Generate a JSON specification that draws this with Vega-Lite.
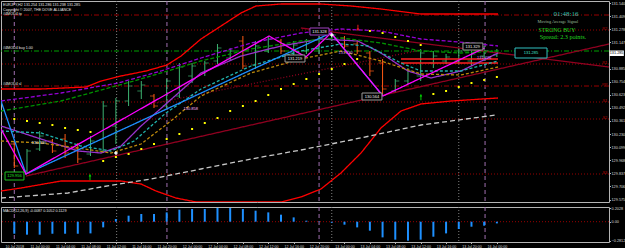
{
"$schema":"https://vega.github.io/schema/vega-lite/v6.json",
"background":"#000000",
"padding":0,
"spacing":2,
"config":{"view":{"stroke":"#b4b4b4","strokeWidth":1},"axis":{"grid":false,"domain":false,"labelFont":"Liberation Sans","labelColor":"#d8d8d8","tickColor":"#b4b4b4","tickSize":1.5,"labelPadding":0.5,"labelOverlap":false,"labelFlush":false},"text":{"font":"Liberation Sans"}},
"datasets":{
"verticals":[{"i":0,"k":"day"},{"i":12.02,"k":"day"},{"i":24.0,"k":"day"},{"i":37.07,"k":"day"},{"i":8.06,"k":"cursor"},{"i":25.0,"k":"cursor"},{"i":35.0,"k":"cursor"}],
"candles":[
{"i":0,"t":"10 Jul 20:00","d":"down","o":130.13,"h":130.16,"l":129.89,"c":129.91},
{"i":1,"t":"10 Jul 22:00","d":"up","o":129.86,"h":130.08,"l":129.83,"c":130.06},
{"i":2,"t":"11 Jul 00:00","d":"up","o":130.08,"h":130.26,"l":130.06,"c":130.21},
{"i":3,"t":"11 Jul 02:00","d":"down","o":130.16,"h":130.18,"l":130.04,"c":130.06},
{"i":4,"t":"11 Jul 04:00","d":"down","o":130.18,"h":130.23,"l":129.99,"c":130.04},
{"i":5,"t":"11 Jul 06:00","d":"down","o":130.08,"h":130.14,"l":129.94,"c":129.98},
{"i":6,"t":"11 Jul 08:00","d":"up","o":130.03,"h":130.21,"l":130.01,"c":130.16},
{"i":7,"t":"11 Jul 10:00","d":"up","o":130.06,"h":130.56,"l":130.04,"c":130.51},
{"i":8,"t":"11 Jul 12:00","d":"up","o":130.31,"h":130.59,"l":130.13,"c":130.56},
{"i":9,"t":"11 Jul 14:00","d":"up","o":130.56,"h":130.76,"l":130.51,"c":130.71},
{"i":10,"t":"11 Jul 16:00","d":"up","o":130.66,"h":130.76,"l":130.58,"c":130.72},
{"i":11,"t":"11 Jul 18:00","d":"down","o":130.61,"h":130.63,"l":130.49,"c":130.51},
{"i":12,"t":"11 Jul 20:00","d":"up","o":130.51,"h":130.78,"l":130.49,"c":130.76},
{"i":13,"t":"11 Jul 22:00","d":"up","o":130.61,"h":130.94,"l":130.59,"c":130.90},
{"i":14,"t":"12 Jul 00:00","d":"up","o":130.81,"h":130.94,"l":130.74,"c":130.91},
{"i":15,"t":"12 Jul 02:00","d":"up","o":130.84,"h":130.96,"l":130.81,"c":130.94},
{"i":16,"t":"12 Jul 04:00","d":"up","o":130.96,"h":131.13,"l":130.93,"c":131.09},
{"i":17,"t":"12 Jul 06:00","d":"up","o":130.99,"h":131.09,"l":130.96,"c":131.06},
{"i":18,"t":"12 Jul 08:00","d":"down","o":131.16,"h":131.21,"l":130.88,"c":130.91},
{"i":19,"t":"12 Jul 10:00","d":"up","o":130.92,"h":131.16,"l":130.88,"c":131.11},
{"i":20,"t":"12 Jul 12:00","d":"up","o":131.06,"h":131.21,"l":131.04,"c":131.18},
{"i":21,"t":"12 Jul 14:00","d":"down","o":131.16,"h":131.18,"l":131.03,"c":131.06},
{"i":22,"t":"12 Jul 16:00","d":"up","o":131.04,"h":131.16,"l":130.99,"c":131.12},
{"i":23,"t":"12 Jul 18:00","d":"up","o":131.06,"h":131.18,"l":131.03,"c":131.16},
{"i":24,"t":"12 Jul 20:00","d":"up","o":131.08,"h":131.21,"l":131.03,"c":131.19},
{"i":25,"t":"12 Jul 22:00","d":"up","o":131.18,"h":131.26,"l":131.16,"c":131.22},
{"i":26,"t":"13 Jul 00:00","d":"down","o":131.19,"h":131.21,"l":131.09,"c":131.11},
{"i":27,"t":"13 Jul 02:00","d":"down","o":131.13,"h":131.16,"l":131.03,"c":131.06},
{"i":28,"t":"13 Jul 04:00","d":"down","o":131.04,"h":131.06,"l":130.81,"c":130.86},
{"i":29,"t":"13 Jul 06:00","d":"down","o":130.94,"h":130.98,"l":130.63,"c":130.68},
{"i":30,"t":"13 Jul 08:00","d":"up","o":130.66,"h":130.78,"l":130.64,"c":130.76},
{"i":31,"t":"13 Jul 10:00","d":"up","o":130.76,"h":130.89,"l":130.73,"c":130.86},
{"i":32,"t":"13 Jul 12:00","d":"up","o":130.81,"h":131.08,"l":130.76,"c":131.04},
{"i":33,"t":"13 Jul 14:00","d":"up","o":130.94,"h":131.06,"l":130.89,"c":131.01},
{"i":34,"t":"13 Jul 16:00","d":"up","o":130.96,"h":131.03,"l":130.93,"c":131.00},
{"i":35,"t":"13 Jul 18:00","d":"up","o":130.96,"h":131.09,"l":130.93,"c":131.06},
{"i":36,"t":"13 Jul 20:00","d":"up","o":130.96,"h":131.06,"l":130.91,"c":131.03},
{"i":37,"t":"13 Jul 22:00","d":"up","o":131.01,"h":131.11,"l":130.96,"c":131.06},
{"i":38,"t":"16 Jul 00:00","d":"up","o":131.02,"h":131.08,"l":131.00,"c":131.04}],
"sar":[{"i":0,"p":130.38},{"i":1,"p":130.36},{"i":2,"p":130.34},{"i":3,"p":130.32},{"i":4,"p":130.29},{"i":5,"p":130.27},{"i":6,"p":130.25},{"i":7,"p":129.96},{"i":8,"p":130.0},{"i":9,"p":130.03},{"i":10,"p":130.08},{"i":11,"p":130.13},{"i":12,"p":130.18},{"i":13,"p":130.23},{"i":14,"p":130.28},{"i":15,"p":130.34},{"i":16,"p":130.39},{"i":17,"p":130.46},{"i":18,"p":130.51},{"i":19,"p":130.56},{"i":20,"p":130.62},{"i":21,"p":130.68},{"i":22,"p":130.73},{"i":23,"p":130.78},{"i":24,"p":130.83},{"i":25,"p":130.88},{"i":26,"p":130.93},{"i":27,"p":130.98},{"i":28,"p":131.26},{"i":29,"p":131.24},{"i":30,"p":131.20},{"i":31,"p":131.16},{"i":32,"p":131.12},{"i":33,"p":130.63},{"i":34,"p":130.66},{"i":35,"p":130.70},{"i":36,"p":130.74},{"i":37,"p":130.77},{"i":38,"p":130.80}],
"lines":[
{"s":"BB upper","i":-1.047,"p":130.68},{"s":"BB upper","i":2.10,"p":130.68},{"s":"BB upper","i":5.65,"p":130.70},{"s":"BB upper","i":6.83,"p":130.76},{"s":"BB upper","i":8.40,"p":130.81},{"s":"BB upper","i":10.37,"p":130.86},{"s":"BB upper","i":12.02,"p":130.92},{"s":"BB upper","i":13.13,"p":131.01},{"s":"BB upper","i":14.70,"p":131.18},{"s":"BB upper","i":16.28,"p":131.31},{"s":"BB upper","i":17.85,"p":131.44},{"s":"BB upper","i":19.03,"p":131.51},{"s":"BB upper","i":21.0,"p":131.53},{"s":"BB upper","i":24.15,"p":131.53},{"s":"BB upper","i":26.51,"p":131.51},{"s":"BB upper","i":28.87,"p":131.48},{"s":"BB upper","i":32.02,"p":131.43},{"s":"BB upper","i":38.09,"p":131.43},
{"s":"BB lower","i":-1.047,"p":129.66},{"s":"BB lower","i":0.53,"p":129.69},{"s":"BB lower","i":3.68,"p":129.76},{"s":"BB lower","i":8.40,"p":129.76},{"s":"BB lower","i":9.98,"p":129.73},{"s":"BB lower","i":11.16,"p":129.66},{"s":"BB lower","i":12.73,"p":129.59},{"s":"BB lower","i":14.31,"p":129.55},{"s":"BB lower","i":21.0,"p":129.55},{"s":"BB lower","i":22.57,"p":129.60},{"s":"BB lower","i":24.15,"p":129.68},{"s":"BB lower","i":25.72,"p":129.84},{"s":"BB lower","i":27.30,"p":130.04},{"s":"BB lower","i":28.87,"p":130.29},{"s":"BB lower","i":30.45,"p":130.46},{"s":"BB lower","i":32.02,"p":130.53},{"s":"BB lower","i":34.39,"p":130.56},{"s":"BB lower","i":38.09,"p":130.59},
{"s":"Red A","i":30.45,"p":130.98},{"s":"Red A","i":38.09,"p":130.98},
{"s":"Red B","i":30.45,"p":130.94},{"s":"Red B","i":38.09,"p":130.94},
{"s":"MA 200","i":-1.047,"p":129.59},{"s":"MA 200","i":4.23,"p":129.64},{"s":"MA 200","i":6.83,"p":129.70},{"s":"MA 200","i":10.76,"p":129.78},{"s":"MA 200","i":14.70,"p":129.88},{"s":"MA 200","i":18.64,"p":129.98},{"s":"MA 200","i":22.57,"p":130.07},{"s":"MA 200","i":26.51,"p":130.17},{"s":"MA 200","i":32.02,"p":130.32},{"s":"MA 200","i":37.93,"p":130.42},
{"s":"Trend up","i":0.92,"p":129.81},{"s":"Trend up","i":46.83,"p":131.13},
{"s":"Trend down","i":22.57,"p":131.29},{"s":"Trend down","i":46.83,"p":130.90},
{"s":"Channel","i":10.76,"p":130.53},{"s":"Channel","i":32.02,"p":131.07},
{"s":"MA violet","i":-1.047,"p":130.31},{"s":"MA violet","i":2.10,"p":130.18},{"s":"MA violet","i":5.02,"p":130.06},{"s":"MA violet","i":6.83,"p":130.04},{"s":"MA violet","i":8.40,"p":130.11},{"s":"MA violet","i":9.98,"p":130.31},{"s":"MA violet","i":11.94,"p":130.53},{"s":"MA violet","i":14.70,"p":130.84},{"s":"MA violet","i":17.85,"p":131.01},{"s":"MA violet","i":21.0,"p":131.11},{"s":"MA violet","i":24.15,"p":131.18},{"s":"MA violet","i":27.06,"p":131.16},{"s":"MA violet","i":28.87,"p":131.04},{"s":"MA violet","i":31.0,"p":130.86},{"s":"MA violet","i":32.81,"p":130.79},{"s":"MA violet","i":35.17,"p":130.86},{"s":"MA violet","i":38.09,"p":131.04},
{"s":"MA teal","i":-1.047,"p":130.26},{"s":"MA teal","i":2.10,"p":130.24},{"s":"MA teal","i":5.25,"p":130.11},{"s":"MA teal","i":7.61,"p":130.06},{"s":"MA teal","i":9.43,"p":130.16},{"s":"MA teal","i":11.94,"p":130.44},{"s":"MA teal","i":14.70,"p":130.68},{"s":"MA teal","i":18.64,"p":130.91},{"s":"MA teal","i":22.57,"p":131.06},{"s":"MA teal","i":25.72,"p":131.13},{"s":"MA teal","i":27.85,"p":131.11},{"s":"MA teal","i":30.45,"p":130.94},{"s":"MA teal","i":32.02,"p":130.86},{"s":"MA teal","i":35.17,"p":130.86},{"s":"MA teal","i":38.09,"p":130.96},
{"s":"MA olive","i":-1.047,"p":130.16},{"s":"MA olive","i":2.10,"p":130.14},{"s":"MA olive","i":5.02,"p":130.09},{"s":"MA olive","i":7.61,"p":130.04},{"s":"MA olive","i":9.98,"p":130.13},{"s":"MA olive","i":12.33,"p":130.36},{"s":"MA olive","i":14.70,"p":130.61},{"s":"MA olive","i":18.64,"p":130.84},{"s":"MA olive","i":22.57,"p":130.98},{"s":"MA olive","i":25.72,"p":131.06},{"s":"MA olive","i":28.87,"p":130.96},{"s":"MA olive","i":32.02,"p":130.83},{"s":"MA olive","i":35.17,"p":130.82},{"s":"MA olive","i":38.09,"p":130.90},
{"s":"MA purple dash","i":-1.047,"p":130.56},{"s":"MA purple dash","i":3.68,"p":130.64},{"s":"MA purple dash","i":8.17,"p":130.74},{"s":"MA purple dash","i":11.55,"p":130.86},{"s":"MA purple dash","i":14.70,"p":130.99},{"s":"MA purple dash","i":18.64,"p":131.14},{"s":"MA purple dash","i":22.57,"p":131.24},{"s":"MA purple dash","i":25.72,"p":131.28},{"s":"MA purple dash","i":28.87,"p":131.26},{"s":"MA purple dash","i":32.02,"p":131.18},{"s":"MA purple dash","i":35.96,"p":131.14},{"s":"MA purple dash","i":38.09,"p":131.11},
{"s":"MA green dash","i":-1.047,"p":130.46},{"s":"MA green dash","i":3.68,"p":130.56},{"s":"MA green dash","i":9.43,"p":130.76},{"s":"MA green dash","i":14.70,"p":130.96},{"s":"MA green dash","i":18.64,"p":131.08},{"s":"MA green dash","i":22.57,"p":131.16},{"s":"MA green dash","i":25.72,"p":131.19},{"s":"MA green dash","i":28.87,"p":131.14},{"s":"MA green dash","i":32.02,"p":131.06},{"s":"MA green dash","i":35.17,"p":131.04},{"s":"MA green dash","i":38.09,"p":131.06},
{"s":"ZigZag B","i":-1.047,"p":130.56},{"s":"ZigZag B","i":0.92,"p":129.83},{"s":"ZigZag B","i":24.94,"p":131.24},{"s":"ZigZag B","i":29.03,"p":130.61},
{"s":"ZigZag M","i":-1.047,"p":130.28},{"s":"ZigZag M","i":0.92,"p":129.83},{"s":"ZigZag M","i":20.06,"p":131.21},{"s":"ZigZag M","i":22.96,"p":131.00},{"s":"ZigZag M","i":24.94,"p":131.24},{"s":"ZigZag M","i":29.03,"p":130.61},{"s":"ZigZag M","i":37.03,"p":131.09}],
"macd":[{"i":0,"v":-0.178},{"i":1,"v":-0.192},{"i":2,"v":-0.192},{"i":3,"v":-0.178},{"i":4,"v":-0.178},{"i":5,"v":-0.178},{"i":6,"v":-0.173},{"i":7,"v":-0.084},{"i":8,"v":0.040},{"i":9,"v":0.089},{"i":10,"v":0.114},{"i":11,"v":0.114},{"i":12,"v":0.138},{"i":13,"v":0.178},{"i":14,"v":0.188},{"i":15,"v":0.188},{"i":16,"v":0.203},{"i":17,"v":0.203},{"i":18,"v":0.188},{"i":19,"v":0.163},{"i":20,"v":0.138},{"i":21,"v":0.104},{"i":22,"v":0.064},{"i":23,"v":0.015},{"i":24,"v":0.004},{"i":25,"v":-0.015},{"i":26,"v":-0.044},{"i":27,"v":-0.084},{"i":28,"v":-0.133},{"i":29,"v":-0.232},{"i":30,"v":-0.266},{"i":31,"v":-0.281},{"i":32,"v":-0.266},{"i":33,"v":-0.222},{"i":34,"v":-0.173},{"i":35,"v":-0.108},{"i":36,"v":-0.074},{"i":37,"v":-0.059},{"i":38,"v":-0.025}]
},
"vconcat":[
{"width":608,"height":201,
"resolve":{"scale":{"color":"independent","strokeDash":"independent","strokeWidth":"independent","stroke":"independent"}},
"layer":[
{"data":{"name":"verticals"},"mark":{"type":"rule","strokeWidth":1},
 "encoding":{"x":{"field":"i","type":"quantitative","scale":{"domain":[-1.047,46.83],"nice":false,"zero":false},"axis":null},
 "color":{"field":"k","type":"nominal","scale":{"domain":["day","cursor"],"range":["#a070b0","#808080"]},"legend":null},
 "strokeDash":{"field":"k","type":"nominal","scale":{"domain":["day","cursor"],"range":[[4,3],[1,2]]},"legend":null}}},
{"data":{"values":[{"p":131.42,"k":"order"},{"p":131.06,"k":"buy"},{"p":130.71,"k":"order"},{"p":131.27,"k":"pivot"},{"p":130.93,"k":"pivot"},{"p":130.55,"k":"pivot"},{"p":130.38,"k":"pivot"},{"p":129.83,"k":"pivot"}]},
 "mark":{"type":"rule","strokeWidth":1},
 "encoding":{"y":{"field":"p","type":"quantitative","scale":{"domain":[129.55,131.56],"nice":false,"zero":false},"axis":{"orient":"right","title":null,"values":[131.54,131.409,131.278,131.147,130.885,130.754,130.623,130.492,130.361,130.23,130.099,129.968,129.837,129.706,129.575],"format":".3f","labelFontSize":3.8}},
 "color":{"field":"k","type":"nominal","scale":{"domain":["order","buy","pivot"],"range":["#990000","#00a000","#990000"]},"legend":null},
 "strokeDash":{"field":"k","type":"nominal","scale":{"domain":["order","buy","pivot"],"range":[[5,2,1,2],[5,2,1,2],[1,2]]},"legend":null}}},
{"data":{"name":"candles"},"mark":{"type":"rule","strokeWidth":1},
 "encoding":{"x":{"field":"i","type":"quantitative","scale":{"domain":[-1.047,46.83],"nice":false,"zero":false},"axis":null},
 "y":{"field":"l","type":"quantitative","scale":{"domain":[129.55,131.56],"nice":false,"zero":false},"axis":{"orient":"right","title":null,"values":[131.54,131.409,131.278,131.147,130.885,130.754,130.623,130.492,130.361,130.23,130.099,129.968,129.837,129.706,129.575],"format":".3f","labelFontSize":3.8}},"y2":{"field":"h"},
 "color":{"field":"d","type":"nominal","scale":{"domain":["up","down"],"range":["#3cb371","#ff5a14"]},"legend":null}}},
{"data":{"name":"candles"},"mark":{"type":"tick","orient":"horizontal","size":4,"thickness":1,"xOffset":-2},
 "encoding":{"x":{"field":"i","type":"quantitative","scale":{"domain":[-1.047,46.83],"nice":false,"zero":false},"axis":null},
 "y":{"field":"o","type":"quantitative","scale":{"domain":[129.55,131.56],"nice":false,"zero":false},"axis":{"orient":"right","title":null,"values":[131.54,131.409,131.278,131.147,130.885,130.754,130.623,130.492,130.361,130.23,130.099,129.968,129.837,129.706,129.575],"format":".3f","labelFontSize":3.8}},
 "color":{"field":"d","type":"nominal","scale":{"domain":["up","down"],"range":["#3cb371","#ff5a14"]},"legend":null}}},
{"data":{"name":"candles"},"mark":{"type":"tick","orient":"horizontal","size":4,"thickness":1,"xOffset":2},
 "encoding":{"x":{"field":"i","type":"quantitative","scale":{"domain":[-1.047,46.83],"nice":false,"zero":false},"axis":null},
 "y":{"field":"c","type":"quantitative","scale":{"domain":[129.55,131.56],"nice":false,"zero":false},"axis":{"orient":"right","title":null,"values":[131.54,131.409,131.278,131.147,130.885,130.754,130.623,130.492,130.361,130.23,130.099,129.968,129.837,129.706,129.575],"format":".3f","labelFontSize":3.8}},
 "color":{"field":"d","type":"nominal","scale":{"domain":["up","down"],"range":["#3cb371","#ff5a14"]},"legend":null}}},
{"data":{"name":"lines"},"mark":{"type":"line","clip":true},
 "encoding":{"x":{"field":"i","type":"quantitative","scale":{"domain":[-1.047,46.83],"nice":false,"zero":false},"axis":null},
 "y":{"field":"p","type":"quantitative","scale":{"domain":[129.55,131.56],"nice":false,"zero":false},"axis":{"orient":"right","title":null,"values":[131.54,131.409,131.278,131.147,130.885,130.754,130.623,130.492,130.361,130.23,130.099,129.968,129.837,129.706,129.575],"format":".3f","labelFontSize":3.8}},
 "color":{"field":"s","type":"nominal","scale":{"domain":["BB upper","BB lower","Red A","Red B","MA 200","Trend up","Trend down","Channel","MA violet","MA teal","MA olive","MA purple dash","MA green dash","ZigZag B","ZigZag M"],"range":["#ff0000","#ff0000","#ff2020","#ff2020","#c8c8c8","#900020","#900020","#900020","#9932cc","#20b2aa","#b8860b","#9400d3","#008f00","#1e90ff","#ff00ff"]},"legend":null},
 "strokeDash":{"field":"s","type":"nominal","scale":{"domain":["BB upper","BB lower","Red A","Red B","MA 200","Trend up","Trend down","Channel","MA violet","MA teal","MA olive","MA purple dash","MA green dash","ZigZag B","ZigZag M"],"range":[[1,0],[1,0],[1,0],[1,0],[5,3],[1,0],[1,0],[1,2],[1,0],[3,2],[3,2],[4,2],[4,2],[1,0],[1,0]]},"legend":null},
 "strokeWidth":{"field":"s","type":"nominal","scale":{"domain":["BB upper","BB lower","Red A","Red B","MA 200","Trend up","Trend down","Channel","MA violet","MA teal","MA olive","MA purple dash","MA green dash","ZigZag B","ZigZag M"],"range":[1.3,1.3,1.2,1.2,1.2,1.2,1.2,1,1.3,1,1,1,1,1.3,1.5]},"legend":null}}},
{"data":{"name":"sar"},"mark":{"type":"point","shape":"square","filled":true,"color":"#ffff00","size":4,"opacity":1},
 "encoding":{"x":{"field":"i","type":"quantitative","scale":{"domain":[-1.047,46.83],"nice":false,"zero":false},"axis":null},
 "y":{"field":"p","type":"quantitative","scale":{"domain":[129.55,131.56],"nice":false,"zero":false},"axis":{"orient":"right","title":null,"values":[131.54,131.409,131.278,131.147,130.885,130.754,130.623,130.492,130.361,130.23,130.099,129.968,129.837,129.706,129.575],"format":".3f","labelFontSize":3.8}}}},
{"data":{"values":[{"i":5.96,"p":129.80},{"i":32.02,"p":130.60}]},"mark":{"type":"point","shape":"arrow","filled":true,"color":"#00e000","size":40,"opacity":1},
 "encoding":{"x":{"field":"i","type":"quantitative","scale":{"domain":[-1.047,46.83],"nice":false,"zero":false},"axis":null},
 "y":{"field":"p","type":"quantitative","scale":{"domain":[129.55,131.56],"nice":false,"zero":false},"axis":{"orient":"right","title":null,"values":[131.54,131.409,131.278,131.147,130.885,130.754,130.623,130.492,130.361,130.23,130.099,129.968,129.837,129.706,129.575],"format":".3f","labelFontSize":3.8}}}},
{"data":{"values":[{"i":27.06,"p":131.29}]},"mark":{"type":"point","shape":"arrow","angle":180,"filled":true,"color":"#ff2020","size":40,"opacity":1},
 "encoding":{"x":{"field":"i","type":"quantitative","scale":{"domain":[-1.047,46.83],"nice":false,"zero":false},"axis":null},
 "y":{"field":"p","type":"quantitative","scale":{"domain":[129.55,131.56],"nice":false,"zero":false},"axis":{"orient":"right","title":null,"values":[131.54,131.409,131.278,131.147,130.885,130.754,130.623,130.492,130.361,130.23,130.099,129.968,129.837,129.706,129.575],"format":".3f","labelFontSize":3.8}}}},
{"data":{"values":[{"i":8.0,"p":130.04},{"i":25.0,"p":131.22}]},"mark":{"type":"point","shape":"cross","filled":true,"color":"#ffffff","size":12,"opacity":1},
 "encoding":{"x":{"field":"i","type":"quantitative","scale":{"domain":[-1.047,46.83],"nice":false,"zero":false},"axis":null},
 "y":{"field":"p","type":"quantitative","scale":{"domain":[129.55,131.56],"nice":false,"zero":false},"axis":{"orient":"right","title":null,"values":[131.54,131.409,131.278,131.147,130.885,130.754,130.623,130.492,130.361,130.23,130.099,129.968,129.837,129.706,129.575],"format":".3f","labelFontSize":3.8}}}},
{"data":{"values":[{"i1":23.28,"i2":24.78,"p1":131.29,"p2":131.22,"k":"peak"},{"i1":21.32,"i2":22.89,"p1":131.02,"p2":130.95,"k":"grey"},{"i1":27.38,"i2":28.95,"p1":130.64,"p2":130.57,"k":"grey"},{"i1":35.33,"i2":36.9,"p1":131.14,"p2":131.07,"k":"grey"},{"i1":39.43,"i2":41.95,"p1":131.09,"p2":130.99,"k":"price"},{"i1":-0.73,"i2":0.76,"p1":129.85,"p2":129.77,"k":"low"}]},
 "mark":{"type":"rect","fill":"#000000","strokeWidth":1},
 "encoding":{"x":{"field":"i1","type":"quantitative","scale":{"domain":[-1.047,46.83],"nice":false,"zero":false},"axis":null},"x2":{"field":"i2"},
 "y":{"field":"p1","type":"quantitative","scale":{"domain":[129.55,131.56],"nice":false,"zero":false},"axis":{"orient":"right","title":null,"values":[131.54,131.409,131.278,131.147,130.885,130.754,130.623,130.492,130.361,130.23,130.099,129.968,129.837,129.706,129.575],"format":".3f","labelFontSize":3.8}},"y2":{"field":"p2"},
 "stroke":{"field":"k","type":"nominal","scale":{"domain":["peak","grey","price","low"],"range":["#a040c0","#9a9a9a","#30c0c0","#20c020"]},"legend":null}}},
{"data":{"values":[{"i":24.03,"p":131.255,"txt":"131.328","k":"w"},{"i":22.1,"p":130.985,"txt":"131.219","k":"w"},{"i":28.17,"p":130.605,"txt":"130.564","k":"w"},{"i":36.1,"p":131.105,"txt":"131.329","k":"w"},{"i":1.94,"p":130.14,"txt":"130.330","k":"w"},{"i":26.1,"p":131.04,"txt":"131.230","k":"v"},{"i":37.0,"p":130.99,"txt":"131.226","k":"v"},{"i":13.9,"p":130.48,"txt":"130.858","k":"pk"},{"i":0.01,"p":129.81,"txt":"129.956","k":"g"},{"i":40.69,"p":131.04,"txt":"131.285","k":"t"}]},
 "mark":{"type":"text","fontSize":4,"align":"center","baseline":"middle"},
 "encoding":{"x":{"field":"i","type":"quantitative","scale":{"domain":[-1.047,46.83],"nice":false,"zero":false},"axis":null},
 "y":{"field":"p","type":"quantitative","scale":{"domain":[129.55,131.56],"nice":false,"zero":false},"axis":{"orient":"right","title":null,"values":[131.54,131.409,131.278,131.147,130.885,130.754,130.623,130.492,130.361,130.23,130.099,129.968,129.837,129.706,129.575],"format":".3f","labelFontSize":3.8}},
 "text":{"field":"txt"},
 "color":{"field":"k","type":"nominal","scale":{"domain":["w","v","pk","g","t"],"range":["#f0f0f0","#c890ff","#ffb4ff","#20e020","#40e0d0"]},"legend":null}}},
{"data":{"values":[{"i":-0.89,"p":131.52,"txt":"EURJPY,H2  131.254 131.286 131.238 131.285"},{"i":-0.89,"p":131.47,"txt":"Copyright © 2007, THE DOVE ALLIANCE"},{"i":-0.89,"p":131.435,"txt":"#4MOD4 tp"},{"i":-0.89,"p":131.09,"txt":"#4MOD4 buy 1.00"},{"i":-0.89,"p":130.73,"txt":"#4MOD4 sl"}]},
 "mark":{"type":"text","fontSize":3.7,"align":"left","baseline":"middle","color":"#e6e6e6"},
 "encoding":{"x":{"field":"i","type":"quantitative","scale":{"domain":[-1.047,46.83],"nice":false,"zero":false},"axis":null},
 "y":{"field":"p","type":"quantitative","scale":{"domain":[129.55,131.56],"nice":false,"zero":false},"axis":{"orient":"right","title":null,"values":[131.54,131.409,131.278,131.147,130.885,130.754,130.623,130.492,130.361,130.23,130.099,129.968,129.837,129.706,129.575],"format":".3f","labelFontSize":3.8}},
 "text":{"field":"txt"}}},
{"data":{"values":[{"i":46.7,"p":131.28,"txt":"R2"},{"i":46.7,"p":130.94,"txt":"R1"},{"i":46.7,"p":130.72,"txt":"PP"},{"i":46.7,"p":130.56,"txt":"S1"},{"i":46.7,"p":130.39,"txt":"S2"},{"i":46.7,"p":129.84,"txt":"S3"}]},
 "mark":{"type":"text","fontSize":4,"align":"right","baseline":"middle","color":"#b00000"},
 "encoding":{"x":{"field":"i","type":"quantitative","scale":{"domain":[-1.047,46.83],"nice":false,"zero":false},"axis":null},
 "y":{"field":"p","type":"quantitative","scale":{"domain":[129.55,131.56],"nice":false,"zero":false},"axis":{"orient":"right","title":null,"values":[131.54,131.409,131.278,131.147,130.885,130.754,130.623,130.492,130.361,130.23,130.099,129.968,129.837,129.706,129.575],"format":".3f","labelFontSize":3.8}},
 "text":{"field":"txt"}}},
{"data":{"values":[{"i":43.44,"p":131.43,"txt":"01:48:16"}]},
 "mark":{"type":"text","font":"Liberation Serif","fontSize":7,"align":"center","baseline":"middle","color":"#30c0b0"},
 "encoding":{"x":{"field":"i","type":"quantitative","scale":{"domain":[-1.047,46.83],"nice":false,"zero":false},"axis":null},
 "y":{"field":"p","type":"quantitative","scale":{"domain":[129.55,131.56],"nice":false,"zero":false},"axis":{"orient":"right","title":null,"values":[131.54,131.409,131.278,131.147,130.885,130.754,130.623,130.492,130.361,130.23,130.099,129.968,129.837,129.706,129.575],"format":".3f","labelFontSize":3.8}},"text":{"field":"txt"}}},
{"data":{"values":[{"i":42.8,"p":131.353,"txt":"Moving Average Signal"}]},
 "mark":{"type":"text","font":"Liberation Serif","fontSize":4.3,"align":"center","baseline":"middle","color":"#9fbf9f"},
 "encoding":{"x":{"field":"i","type":"quantitative","scale":{"domain":[-1.047,46.83],"nice":false,"zero":false},"axis":null},
 "y":{"field":"p","type":"quantitative","scale":{"domain":[129.55,131.56],"nice":false,"zero":false},"axis":{"orient":"right","title":null,"values":[131.54,131.409,131.278,131.147,130.885,130.754,130.623,130.492,130.361,130.23,130.099,129.968,129.837,129.706,129.575],"format":".3f","labelFontSize":3.8}},"text":{"field":"txt"}}},
{"data":{"values":[{"i":42.73,"p":131.27,"txt":"STRONG BUY"}]},
 "mark":{"type":"text","font":"Liberation Serif","fontSize":5.8,"align":"center","baseline":"middle","color":"#22dd22"},
 "encoding":{"x":{"field":"i","type":"quantitative","scale":{"domain":[-1.047,46.83],"nice":false,"zero":false},"axis":null},
 "y":{"field":"p","type":"quantitative","scale":{"domain":[129.55,131.56],"nice":false,"zero":false},"axis":{"orient":"right","title":null,"values":[131.54,131.409,131.278,131.147,130.885,130.754,130.623,130.492,130.361,130.23,130.099,129.968,129.837,129.706,129.575],"format":".3f","labelFontSize":3.8}},"text":{"field":"txt"}}},
{"data":{"values":[{"i":43.2,"p":131.2,"txt":"Spread: 2.3 points."}]},
 "mark":{"type":"text","font":"Liberation Serif","fontSize":6.2,"align":"center","baseline":"middle","color":"#22dd22"},
 "encoding":{"x":{"field":"i","type":"quantitative","scale":{"domain":[-1.047,46.83],"nice":false,"zero":false},"axis":null},
 "y":{"field":"p","type":"quantitative","scale":{"domain":[129.55,131.56],"nice":false,"zero":false},"axis":{"orient":"right","title":null,"values":[131.54,131.409,131.278,131.147,130.885,130.754,130.623,130.492,130.361,130.23,130.099,129.968,129.837,129.706,129.575],"format":".3f","labelFontSize":3.8}},"text":{"field":"txt"}}},
{"data":{"values":[{"i1":46.87,"i2":48.0,"p1":131.065,"p2":131.01}]},"mark":{"type":"rect","fill":"#ffffff","clip":false},
 "encoding":{"x":{"field":"i1","type":"quantitative","scale":{"domain":[-1.047,46.83],"nice":false,"zero":false},"axis":null},"x2":{"field":"i2"},
 "y":{"field":"p1","type":"quantitative","scale":{"domain":[129.55,131.56],"nice":false,"zero":false},"axis":{"orient":"right","title":null,"values":[131.54,131.409,131.278,131.147,130.885,130.754,130.623,130.492,130.361,130.23,130.099,129.968,129.837,129.706,129.575],"format":".3f","labelFontSize":3.8}},"y2":{"field":"p2"}}},
{"data":{"values":[{"i":47.43,"p":131.037,"txt":"131.285"}]},"mark":{"type":"text","fontSize":3.8,"align":"center","baseline":"middle","color":"#000000"},
 "encoding":{"x":{"field":"i","type":"quantitative","scale":{"domain":[-1.047,46.83],"nice":false,"zero":false},"axis":null},
 "y":{"field":"p","type":"quantitative","scale":{"domain":[129.55,131.56],"nice":false,"zero":false},"axis":{"orient":"right","title":null,"values":[131.54,131.409,131.278,131.147,130.885,130.754,130.623,130.492,130.361,130.23,130.099,129.968,129.837,129.706,129.575],"format":".3f","labelFontSize":3.8}},"text":{"field":"txt"}}}
]},
{"width":608,"height":35,
"resolve":{"scale":{"color":"independent","strokeDash":"independent"}},
"layer":[
{"data":{"name":"verticals"},"mark":{"type":"rule","strokeWidth":1},
 "encoding":{"x":{"field":"i","type":"quantitative","scale":{"domain":[-1.047,46.83],"nice":false,"zero":false},
   "axis":{"orient":"bottom","title":null,"values":[0,2,4,6,8,10,12,14,16,18,20,22,24,26,28,30,32,34,36,38],"labelFontSize":3.6,"labelExpr":"['10 Jul 2018','11 Jul 00:00','11 Jul 04:00','11 Jul 08:00','11 Jul 12:00','11 Jul 16:00','11 Jul 20:00','12 Jul 00:00','12 Jul 04:00','12 Jul 08:00','12 Jul 12:00','12 Jul 16:00','12 Jul 20:00','13 Jul 00:00','13 Jul 04:00','13 Jul 08:00','13 Jul 12:00','13 Jul 16:00','13 Jul 20:00','16 Jul 00:00'][datum.value/2]"}},
 "color":{"field":"k","type":"nominal","scale":{"domain":["day","cursor"],"range":["#a070b0","#808080"]},"legend":null},
 "strokeDash":{"field":"k","type":"nominal","scale":{"domain":["day","cursor"],"range":[[4,3],[1,2]]},"legend":null}}},
{"data":{"values":[{"z":0}]},"mark":{"type":"rule","color":"#990000","strokeDash":[1,2],"strokeWidth":1},
 "encoding":{"y":{"field":"z","type":"quantitative","scale":{"domain":[-0.3004,0.2176],"nice":false,"zero":false},
   "axis":{"orient":"right","title":null,"values":[0.2028,0,-0.2812],"labelFontSize":3.8,"labelExpr":"datum.value == 0 ? '0.00' : format(datum.value, '.4f')"}}}},
{"data":{"name":"macd"},"mark":{"type":"rule","color":"#1e90ff","strokeWidth":2},
 "encoding":{"x":{"field":"i","type":"quantitative","scale":{"domain":[-1.047,46.83],"nice":false,"zero":false},
   "axis":{"orient":"bottom","title":null,"values":[0,2,4,6,8,10,12,14,16,18,20,22,24,26,28,30,32,34,36,38],"labelFontSize":3.6,"labelExpr":"['10 Jul 2018','11 Jul 00:00','11 Jul 04:00','11 Jul 08:00','11 Jul 12:00','11 Jul 16:00','11 Jul 20:00','12 Jul 00:00','12 Jul 04:00','12 Jul 08:00','12 Jul 12:00','12 Jul 16:00','12 Jul 20:00','13 Jul 00:00','13 Jul 04:00','13 Jul 08:00','13 Jul 12:00','13 Jul 16:00','13 Jul 20:00','16 Jul 00:00'][datum.value/2]"}},
 "y":{"field":"v","type":"quantitative","scale":{"domain":[-0.3004,0.2176],"nice":false,"zero":false},
   "axis":{"orient":"right","title":null,"values":[0.2028,0,-0.2812],"labelFontSize":3.8,"labelExpr":"datum.value == 0 ? '0.00' : format(datum.value, '.4f')"}},
 "y2":{"datum":0}}},
{"data":{"values":[{"i":-0.89,"v":0.158,"txt":"MACD(12,26,9) -0.0087 0.1052 0.1129"}]},
 "mark":{"type":"text","fontSize":3.7,"align":"left","baseline":"middle","color":"#e6e6e6"},
 "encoding":{"x":{"field":"i","type":"quantitative","scale":{"domain":[-1.047,46.83],"nice":false,"zero":false},
   "axis":{"orient":"bottom","title":null,"values":[0,2,4,6,8,10,12,14,16,18,20,22,24,26,28,30,32,34,36,38],"labelFontSize":3.6,"labelExpr":"['10 Jul 2018','11 Jul 00:00','11 Jul 04:00','11 Jul 08:00','11 Jul 12:00','11 Jul 16:00','11 Jul 20:00','12 Jul 00:00','12 Jul 04:00','12 Jul 08:00','12 Jul 12:00','12 Jul 16:00','12 Jul 20:00','13 Jul 00:00','13 Jul 04:00','13 Jul 08:00','13 Jul 12:00','13 Jul 16:00','13 Jul 20:00','16 Jul 00:00'][datum.value/2]"}},
 "y":{"field":"v","type":"quantitative","scale":{"domain":[-0.3004,0.2176],"nice":false,"zero":false},
   "axis":{"orient":"right","title":null,"values":[0.2028,0,-0.2812],"labelFontSize":3.8,"labelExpr":"datum.value == 0 ? '0.00' : format(datum.value, '.4f')"}},"text":{"field":"txt"}}}
]}
]
}
